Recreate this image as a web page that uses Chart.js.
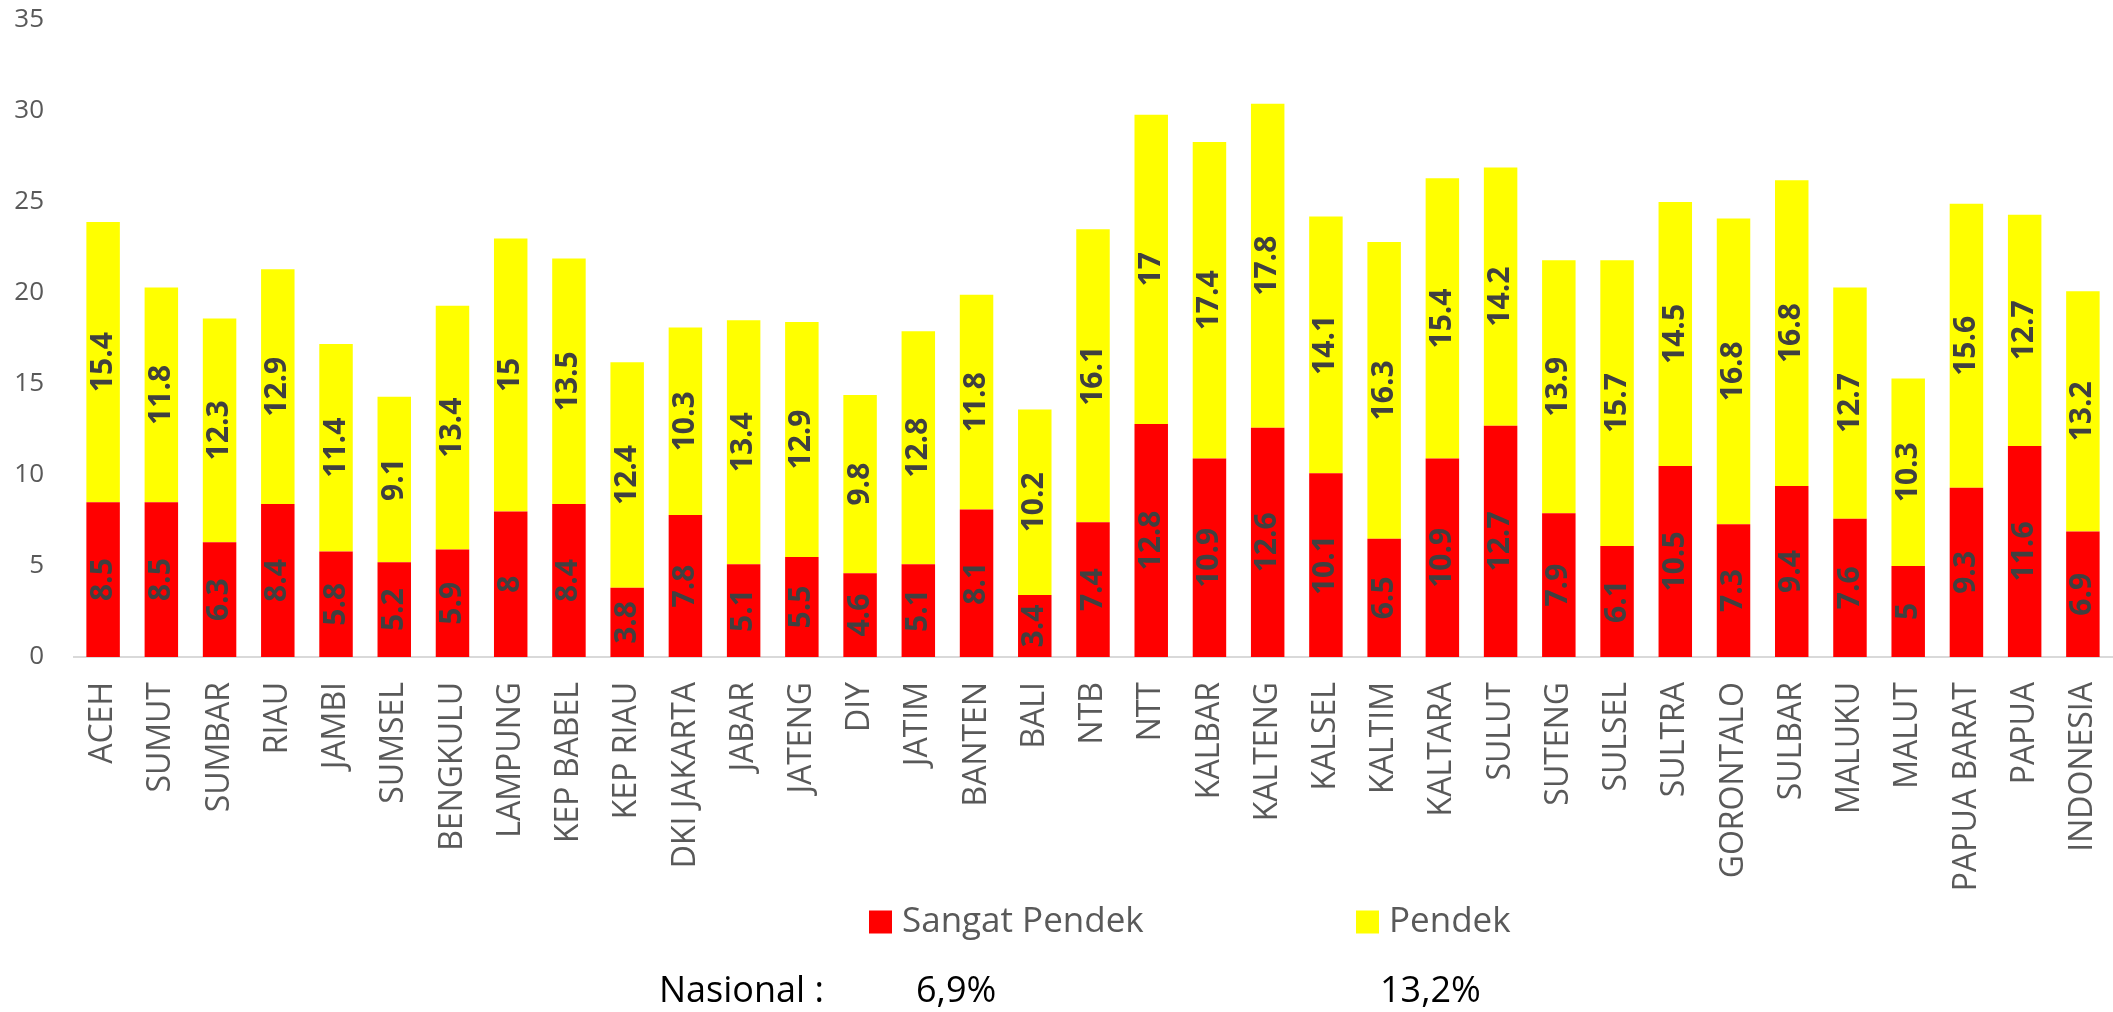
<!DOCTYPE html>
<html>
<head>
<meta charset="utf-8">
<script src="https://cdn.jsdelivr.net/npm/chart.js@4.4.1/dist/chart.umd.min.js"></script>
<style>
    html, body { margin: 0; padding: 0; background: #fff; }
    #wrap { width: 2113px; height: 1012px; position: relative; }
</style>
</head>
<body>
<div id="wrap"><canvas id="stunting-chart"></canvas></div>
<script>
const provinces = [
    'ACEH', 'SUMUT', 'SUMBAR', 'RIAU', 'JAMBI', 'SUMSEL', 'BENGKULU', 'LAMPUNG',
    'KEP BABEL', 'KEP RIAU', 'DKI JAKARTA', 'JABAR', 'JATENG', 'DIY', 'JATIM',
    'BANTEN', 'BALI', 'NTB', 'NTT', 'KALBAR', 'KALTENG', 'KALSEL', 'KALTIM',
    'KALTARA', 'SULUT', 'SUTENG', 'SULSEL', 'SULTRA', 'GORONTALO', 'SULBAR',
    'MALUKU', 'MALUT', 'PAPUA BARAT', 'PAPUA', 'INDONESIA',
];
const sangatPendek = [
    8.5, 8.5, 6.3, 8.4, 5.8, 5.2, 5.9, 8, 8.4, 3.8, 7.8, 5.1, 5.5, 4.6, 5.1,
    8.1, 3.4, 7.4, 12.8, 10.9, 12.6, 10.1, 6.5, 10.9, 12.7, 7.9, 6.1, 10.5,
    7.3, 9.4, 7.6, 5, 9.3, 11.6, 6.9,
];
const pendek = [
    15.4, 11.8, 12.3, 12.9, 11.4, 9.1, 13.4, 15, 13.5, 12.4, 10.3, 13.4, 12.9,
    9.8, 12.8, 11.8, 10.2, 16.1, 17, 17.4, 17.8, 14.1, 16.3, 15.4, 14.2, 13.9,
    15.7, 14.5, 16.8, 16.8, 12.7, 10.3, 15.6, 12.7, 13.2,
];
const seriesLabels = ['Sangat Pendek', 'Pendek'];
const seriesColors = ['rgb(255, 0, 0)', 'rgb(255, 255, 0)'];
const nasionalLabel = 'Nasional :';
const nasionalValues = [6.9, 13.2];

// labels inside each bar segment, rotated
const barValueLabels = {
    id: 'barValueLabels',
    afterDatasetsDraw(chart) {
        const ctx = chart.ctx;
        ctx.save();
        ctx.font = 'bold 30px "Open Sans"';
        ctx.fillStyle = '#404040';
        ctx.textAlign = 'center';
        ctx.textBaseline = 'middle';
        chart.data.datasets.forEach((ds, i) => {
            chart.getDatasetMeta(i).data.forEach((bar, j) => {
                ctx.save();
                ctx.translate(bar.x, (bar.y + bar.base) / 2);
                ctx.rotate(-Math.PI / 2);
                ctx.fillText(String(ds.data[j]), 0, 0);
                ctx.restore();
            });
        });
        ctx.restore();
    }
};

// legend row + national figures under the chart
const legendRow = {
    id: 'legendRow',
    afterDraw(chart) {
        const ctx = chart.ctx;
        const h = chart.height;
        const boxX = [869, 1356];
        const legendY = h - 90;
        ctx.save();
        ctx.textBaseline = 'middle';
        ctx.textAlign = 'left';
        ctx.font = '35px "Open Sans"';
        chart.data.datasets.forEach((ds, i) => {
            ctx.fillStyle = ds.backgroundColor;
            ctx.fillRect(boxX[i], legendY - 11.5, 23, 23);
            ctx.fillStyle = '#595959';
            ctx.fillText(ds.label, boxX[i] + 33, legendY);
        });

        const rowY = h - 20;
        const valueX = [916, 1380];
        ctx.fillStyle = '#000';
        ctx.font = '36px "Open Sans"';
        ctx.fillText(nasionalLabel, 659, rowY);
        nasionalValues.forEach((v, i) => {
            ctx.fillText(v.toFixed(1).replace('.', ',') + '%', valueX[i], rowY);
        });
        ctx.restore();
    }
};

const stuntingCanvas = document.getElementById('stunting-chart');
const stuntingData = {
    labels: provinces,
    datasets: [{
        label: seriesLabels[0],
        data: sangatPendek,
        backgroundColor: seriesColors[0],
    }, {
        label: seriesLabels[1],
        data: pendek,
        backgroundColor: seriesColors[1],
    }]
};
const stuntingConfig = {
    type: 'bar',
    data: stuntingData,
    options: {
        responsive: true,
        maintainAspectRatio: false,
        animation: false,
        categoryPercentage: 0.575,
        barPercentage: 1,
        layout: {
            padding: { top: 20, left: 0, right: 1, bottom: 105 },
        },
        plugins: {
            legend: { display: false },
            tooltip: { enabled: false },
        },
        scales: {
            x: {
                stacked: true,
                grid: { display: false, drawTicks: false },
                border: { display: true, color: '#d9d9d9', width: 2 },
                ticks: {
                    autoSkip: false,
                    maxRotation: 90,
                    minRotation: 90,
                    padding: 25,
                    color: '#595959',
                    font: { family: 'Open Sans', size: 32 },
                },
                afterFit(scale) {
                    scale.height = 250;
                    scale.paddingLeft = 0;
                    scale.paddingRight = 0;
                },
            },
            y: {
                stacked: true,
                min: 0,
                max: 35,
                grid: { display: false, drawTicks: false },
                border: { display: false },
                ticks: {
                    stepSize: 5,
                    padding: 30,
                    color: '#595959',
                    font: { family: 'Open Sans', size: 26 },
                },
                afterFit(scale) {
                    scale.width = 74;
                    scale.paddingTop = 0;
                    scale.paddingBottom = 0;
                },
            },
        },
    },
    plugins: [barValueLabels, legendRow],
};

const stuntingChart = new Chart(stuntingCanvas, stuntingConfig);
</script>
</body>
</html>
